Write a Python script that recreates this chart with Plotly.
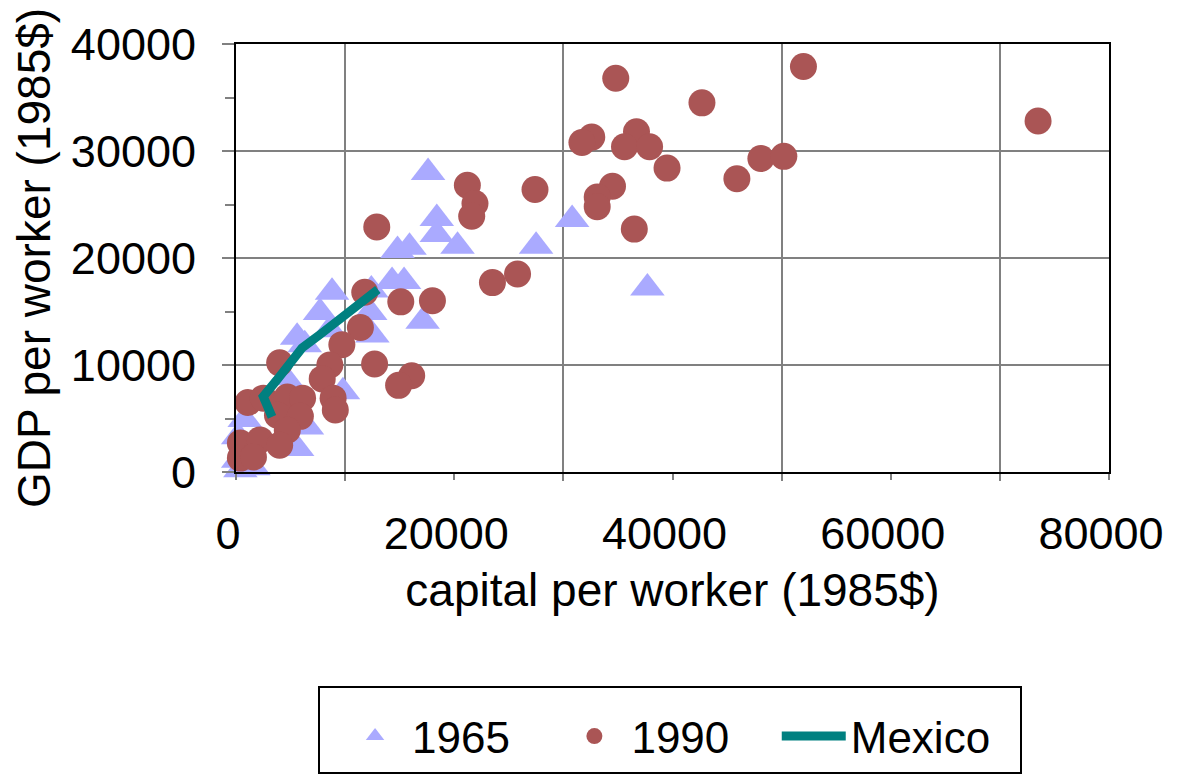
import plotly.graph_objects as go

# 1965 observations (capital per worker, GDP per worker), 1985$
k_1965 = [17600, 18400, 18400, 20300, 14800, 15900, 14300, 15400, 12400, 17100,
          30800, 27500, 37700, 8800, 7700, 5600, 12300, 12500, 9800, 5400,
          6500, 5600, 200, 200, 400, 1600, 6300, 8600, 4500, 800]
y_1965 = [28000, 23700, 22200, 21100, 20700, 21000, 17800, 17800, 17000, 14100,
          23600, 21100, 17200, 16800, 14900, 12600, 14900, 12800, 7500, 7400,
          4200, 2200, 3300, 1100, 200, 400, 11900, 13300, 8800, 4900]

# 1990 observations
k_1990 = [34800, 42700, 52000, 32600, 31700, 36700, 35600, 37900, 39500, 48100,
          50200, 45900, 21200, 21900, 21600, 27400, 34500, 33100, 33100, 36500,
          23500, 25800, 15100, 18000, 16100, 14900, 12900, 11800, 11400, 9700,
          12700, 4000, 8600, 7900, 8900, 9100, 1100, 2500, 4700, 6100,
          3800, 5900, 4700, 400, 2200, 4000, 400, 1600, 73500]
y_1990 = [36800, 34500, 37900, 31300, 30800, 31800, 30400, 30400, 28400, 29300,
          29500, 27400, 26800, 25100, 23900, 26400, 26700, 25700, 24800, 22700,
          17700, 18500, 15900, 16000, 9000, 8100, 22900, 16800, 13500, 11900,
          10100, 10200, 10000, 8700, 6900, 5800, 6500, 6900, 7000, 6900,
          5300, 5200, 3900, 2700, 3000, 2500, 1300, 1400, 32800]

# Mexico path
k_mex = [3300, 2800, 2500, 3750, 4950, 6050, 7700, 9500, 11350, 13000]
y_mex = [5150, 6300, 7050, 8600, 10200, 11600, 12850, 14250, 15850, 17050]

series_names = ["1965", "1990", "Mexico"]

FONT = "Liberation Sans, Arial, sans-serif"
GRID = "#808080"
PAD = "\u00a0" * 2  # keeps legend entries spaced apart like the original

fig = go.Figure()
fig.add_trace(go.Scatter(
    x=k_1965, y=y_1965, mode="markers", name=series_names[0] + PAD, cliponaxis=False,
    marker=dict(symbol="triangle-up", size=30, color="#AAAAFF", line=dict(width=0))))
fig.add_trace(go.Scatter(
    x=k_1990, y=y_1990, mode="markers", name=series_names[1] + PAD, cliponaxis=False,
    marker=dict(symbol="circle", size=27, color="#AA5555", line=dict(width=0))))
fig.add_trace(go.Scatter(
    x=k_mex, y=y_mex, mode="lines", name=series_names[2] + PAD,
    line=dict(color="#008080", width=9)))

fig.update_layout(
    width=1172, height=767,
    margin=dict(l=228, r=71, t=36, b=303, autoexpand=False),
    paper_bgcolor="white", plot_bgcolor="white",
    font=dict(family=FONT, size=44, color="black"),
    showlegend=True,
    legend=dict(
        orientation="h", x=0.094, xanchor="left", y=-0.5, yanchor="top",
        bordercolor="black", borderwidth=2, bgcolor="white",
        font=dict(family=FONT, size=44, color="black"),
        itemwidth=64, itemsizing="trace", indentation=18,
        title=dict(text=" ", font=dict(size=10), side="top"),
    ),
    xaxis=dict(
        range=[0, 80000], tick0=0, dtick=20000, showgrid=False, zeroline=False,
        showline=True, linecolor="black", linewidth=2, mirror=True,
        ticks="outside", ticklen=6, tickwidth=2, tickcolor=GRID,
        ticklabelstandoff=15, ticklabelshift=-8, tickformat="d",
        tickfont=dict(size=45),
        minor=dict(tick0=0, dtick=10000, showgrid=True, gridcolor=GRID, gridwidth=2,
                   ticks="outside", ticklen=7, tickwidth=2, tickcolor=GRID),
        title=dict(text="capital per worker (1985$)", font=dict(size=46), standoff=16),
    ),
    yaxis=dict(
        range=[0, 40000], tick0=0, dtick=10000, showgrid=True, gridcolor=GRID, gridwidth=2,
        zeroline=False,
        showline=True, linecolor="black", linewidth=2, mirror=True,
        ticks="outside", ticklen=12, tickwidth=2, tickcolor=GRID,
        ticklabelstandoff=17, tickformat="d",
        tickfont=dict(size=45),
        minor=dict(dtick=5000, ticks="outside", ticklen=9, tickwidth=2, tickcolor=GRID,
                   showgrid=False),
        title=dict(text="GDP per worker (1985$)", font=dict(size=46), standoff=16),
    ),
)

fig.write_html("out.html")
